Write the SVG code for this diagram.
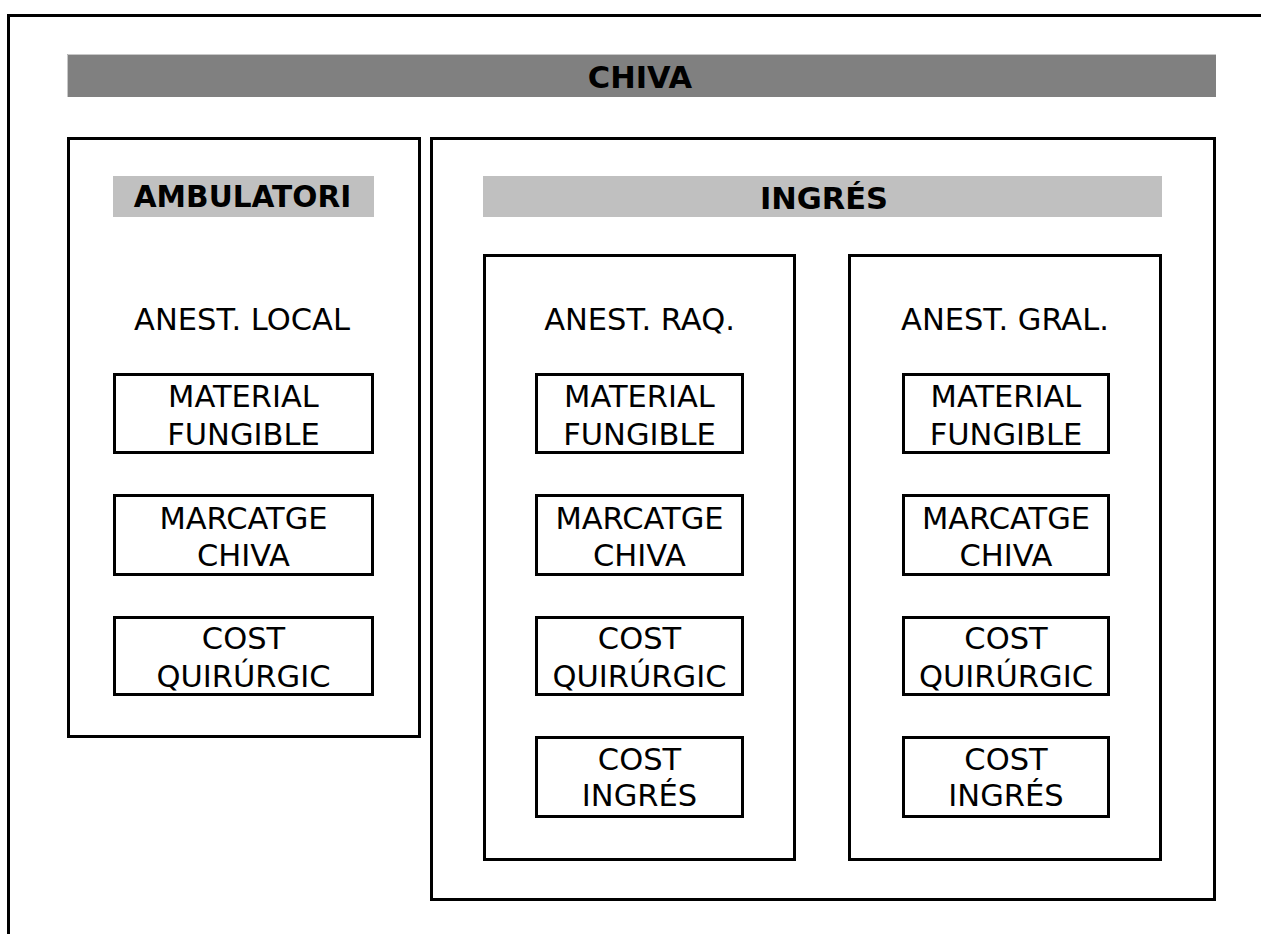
<svg xmlns="http://www.w3.org/2000/svg" width="1261" height="934" viewBox="0 0 1261 934">
  <style>
    .frame { fill: none; stroke: #000; stroke-width: 3; }
    .box { fill: #fff; stroke: #000; stroke-width: 3; }
    .head { fill: #c0c0c0; }
    .t { font-family: "DejaVu Sans", Verdana, sans-serif; font-size: 30.5px; fill: #000; text-anchor: middle; }
    .b { font-family: "DejaVu Sans", Verdana, sans-serif; font-size: 30.5px; font-weight: bold; fill: #000; text-anchor: middle; }
  </style>
  <rect width="1261" height="934" fill="#fff"/>

  <!-- page frame -->
  <rect class="frame" x="8.5" y="15.5" width="1300" height="1000"/>

  <!-- main title bar -->
  <g id="chiva">
    <rect x="67" y="54" width="1149" height="43" fill="#808080"/>
    <path d="M67.5 97 V54.5 H1216" fill="none" stroke="#c8c8c8" stroke-width="1"/>
    <text class="b" x="640" y="88">CHIVA</text>
  </g>

  <!-- outpatient column -->
  <g id="ambulatori">
    <rect class="frame" x="68.5" y="138.5" width="351" height="598"/>
    <rect class="head" x="113" y="176" width="261" height="41"/>
    <text class="b" x="242.5" y="207" style="font-size:29.6px">AMBULATORI</text>
    <text class="t" x="242" y="330">ANEST. LOCAL</text>
  </g>
  <g id="amb-material">
    <rect class="box" x="114.5" y="374.5" width="258" height="78"/>
    <text class="t" x="243.5" y="407">MATERIAL</text>
    <text class="t" x="243.5" y="445">FUNGIBLE</text>
  </g>
  <g id="amb-marcatge">
    <rect class="box" x="114.5" y="495.5" width="258" height="79"/>
    <text class="t" x="243.5" y="528.5">MARCATGE</text>
    <text class="t" x="243.5" y="566">CHIVA</text>
  </g>
  <g id="amb-cost">
    <rect class="box" x="114.5" y="617.5" width="258" height="77"/>
    <text class="t" x="243.5" y="649">COST</text>
    <text class="t" x="243.5" y="687">QUIRÚRGIC</text>
  </g>

  <!-- admission column -->
  <g id="ingres">
    <rect class="frame" x="431.5" y="138.5" width="783" height="761"/>
    <rect class="head" x="483" y="176" width="679" height="41"/>
    <text class="b" x="824" y="209">INGRÉS</text>
  </g>

  <!-- regional anaesthesia -->
  <g id="raq">
    <rect class="frame" x="484.5" y="255.5" width="310" height="604"/>
    <text class="t" x="639.5" y="330">ANEST. RAQ.</text>
  </g>
  <g id="raq-material">
    <rect class="box" x="536.5" y="374.5" width="206" height="78"/>
    <text class="t" x="639.5" y="407">MATERIAL</text>
    <text class="t" x="639.5" y="445">FUNGIBLE</text>
  </g>
  <g id="raq-marcatge">
    <rect class="box" x="536.5" y="495.5" width="206" height="79"/>
    <text class="t" x="639.5" y="528.5">MARCATGE</text>
    <text class="t" x="639.5" y="566">CHIVA</text>
  </g>
  <g id="raq-cost">
    <rect class="box" x="536.5" y="617.5" width="206" height="77"/>
    <text class="t" x="639.5" y="649">COST</text>
    <text class="t" x="639.5" y="687">QUIRÚRGIC</text>
  </g>
  <g id="raq-ingres">
    <rect class="box" x="536.5" y="737.5" width="206" height="79"/>
    <text class="t" x="639.5" y="770">COST</text>
    <text class="t" x="639.5" y="806">INGRÉS</text>
  </g>

  <!-- general anaesthesia -->
  <g id="gral">
    <rect class="frame" x="849.5" y="255.5" width="311" height="604"/>
    <text class="t" x="1005" y="330">ANEST. GRAL.</text>
  </g>
  <g id="gral-material">
    <rect class="box" x="903.5" y="374.5" width="205" height="78"/>
    <text class="t" x="1006" y="407">MATERIAL</text>
    <text class="t" x="1006" y="445">FUNGIBLE</text>
  </g>
  <g id="gral-marcatge">
    <rect class="box" x="903.5" y="495.5" width="205" height="79"/>
    <text class="t" x="1006" y="528.5">MARCATGE</text>
    <text class="t" x="1006" y="566">CHIVA</text>
  </g>
  <g id="gral-cost">
    <rect class="box" x="903.5" y="617.5" width="205" height="77"/>
    <text class="t" x="1006" y="649">COST</text>
    <text class="t" x="1006" y="687">QUIRÚRGIC</text>
  </g>
  <g id="gral-ingres">
    <rect class="box" x="903.5" y="737.5" width="205" height="79"/>
    <text class="t" x="1006" y="770">COST</text>
    <text class="t" x="1006" y="806">INGRÉS</text>
  </g>

  <!-- no connectors: containment only -->
  <g id="connectors"/>
</svg>
